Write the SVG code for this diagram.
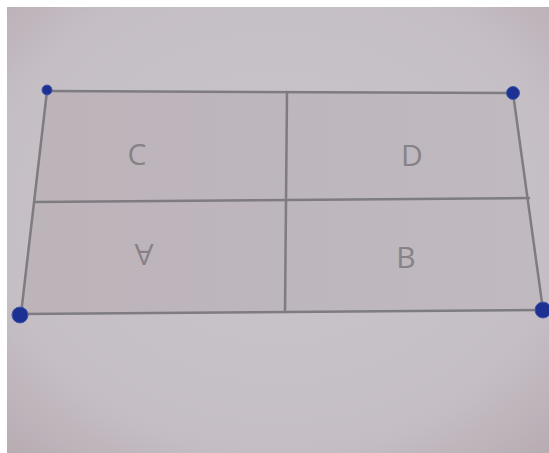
<svg xmlns="http://www.w3.org/2000/svg" width="549" height="453" viewBox="0 0 549 453">
  <defs>
    <radialGradient id="bg" cx="0.5" cy="0.45" r="0.75">
      <stop offset="0" stop-color="#c9c5ca"/>
      <stop offset="0.7" stop-color="#c5bfc5"/>
      <stop offset="1" stop-color="#b8abb2"/>
    </radialGradient>
    <linearGradient id="paper" x1="0" y1="0" x2="1" y2="0">
      <stop offset="0" stop-color="#bdb4ba"/>
      <stop offset="0.5" stop-color="#bdb6bc"/>
      <stop offset="1" stop-color="#c0b9bf"/>
    </linearGradient>
    <style>
      .edge { stroke: #7e7b81; stroke-width: 2.5; fill: none; stroke-linecap: round; }
      .dot { fill: #1c3192; stroke: #4658ab; stroke-width: 1; }
      .lbl { font-family: "Open Sans", "Liberation Sans", sans-serif; font-size: 30px; fill: #878288; text-anchor: middle; }
    </style>
  </defs>
  <rect x="0" y="0" width="549" height="453" fill="#ffffff"/>
  <rect x="7" y="7" width="542" height="446" fill="url(#bg)"/>
  <g id="sheet">
    <polygon points="47,91 513,93 543,310 21,314" fill="url(#paper)"/>
  </g>
  <g id="connectors">
    <line class="edge" x1="47" y1="91" x2="513" y2="93"/>
    <line class="edge" x1="47" y1="91" x2="21" y2="314"/>
    <line class="edge" x1="513" y1="93" x2="543" y2="310"/>
    <line class="edge" x1="21" y1="314" x2="543" y2="310"/>
    <line class="edge" x1="35" y1="202" x2="529" y2="198"/>
    <line class="edge" x1="287" y1="92" x2="285" y2="312"/>
  </g>
  <g id="region-C"><text class="lbl" x="137" y="165">C</text></g>
  <g id="region-D"><text class="lbl" x="412" y="166">D</text></g>
  <g id="region-A"><text class="lbl" x="144" y="266" transform="rotate(180 144 255)">A</text></g>
  <g id="region-B"><text class="lbl" x="406" y="268">B</text></g>
  <g id="vertex-tl"><circle class="dot" cx="47" cy="90" r="5"/></g>
  <g id="vertex-tr"><circle class="dot" cx="513" cy="93" r="6.5"/></g>
  <g id="vertex-bl"><circle class="dot" cx="20" cy="315" r="8"/></g>
  <g id="vertex-br"><circle class="dot" cx="543" cy="310" r="8"/></g>
</svg>
